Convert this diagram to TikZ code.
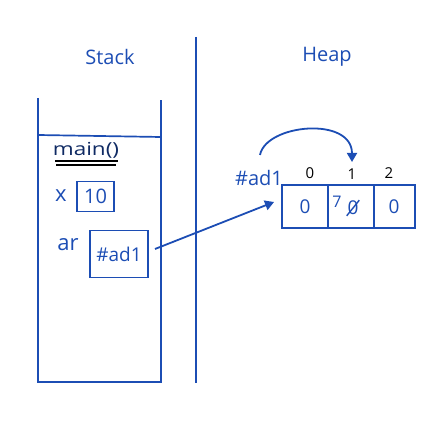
\documentclass[tikz,border=0pt]{standalone}
\usepackage{fontspec}
\setmainfont{Open Sans}
\usetikzlibrary{arrows.meta}
\definecolor{pen}{HTML}{1C4DB4}
\begin{document}
\begin{tikzpicture}[x=1pt,y=-1pt,
  line width=1.7pt,
  ink/.style={draw=pen},
  lbl/.style={text=pen,font=\fontsize{20}{22}\selectfont,inner sep=0pt},
  idx/.style={text=black,font=\fontsize{15}{17}\selectfont,inner sep=0pt},
  cellval/.style={text=pen,font=\fontsize{19}{21}\selectfont,inner sep=0pt},
  varbox/.style={draw=pen,line width=1.7pt,inner sep=0pt,text=pen},
  cell/.style={draw=pen,line width=1.7pt,minimum height=43pt,inner sep=0pt},
  arr/.style={draw=pen,line width=1.8pt,-{Triangle[length=9pt,width=10pt]}}]
\useasboundingbox (0,0) rectangle (444,427);
% titles
\node[lbl] (stacklbl) at (110,57) {Stack};
\node[lbl] (heaplbl) at (327,57) {Heap};
% divider
\draw[ink] (196,37) -- (196,383);
% stack frame
\draw[ink] (38,98) -- (38,382) -- (161,382) -- (161,100);
\draw[ink] (38,135) -- (161,137);
% main()
\node[text=pen!55!black,font=\fontsize{18}{20}\selectfont,inner sep=0pt,xscale=1.25] (main) at (86,150) {main()};
\draw[black,line width=1.3pt] (55,161) -- (118,161);
\draw[black,line width=1.3pt] (56,165) -- (116,165);
% x
\node[lbl,font=\fontsize{22}{24}\selectfont] (xlbl) at (61,196) {x};
\node[varbox,minimum width=37pt,minimum height=30pt,font=\fontsize{20}{22}\selectfont] (xbox) at (95.5,196.5) {10};
% ar
\node[lbl,font=\fontsize{22}{24}\selectfont] (arlbl) at (68,245) {ar};
\node[varbox,minimum width=58pt,minimum height=47pt,font=\fontsize{19}{21}\selectfont] (arbox) at (119,254) {\#ad1};
% heap array
\node[cell,minimum width=46pt] (c0) at (305,206.5) {};
\node[cell,minimum width=46pt] (c1) at (351,206.5) {};
\node[cell,minimum width=41pt] (c2) at (394.5,206.5) {};
\node[cellval] (v0) at (305,207) {0};
\node[cellval,font=\fontsize{16}{18}\selectfont] (v1a) at (337,202) {7};
\node[cellval] (v1b) at (353,208) {0};
\draw[ink,line width=1.4pt] (v1b.south west) -- (v1b.north east);
\node[cellval] (v2) at (394,207) {0};
% indices
\node[idx] (i0) at (310,173) {0};
\node[idx] (i1) at (352,174) {1};
\node[idx] (i2) at (389,173) {2};
% address label
\node[lbl] (addr) at (259,178) {\#ad1};
% arrows
\coordinate (arStart) at (155,249);
\coordinate (arEnd) at (274,202);
\draw[arr] (arStart) -- (arEnd);
\coordinate (cStart) at (260,155);
\coordinate (cEnd) at (352,162);
\draw[arr] (cStart) .. controls (266,124) and (352,116) .. (cEnd);
\end{tikzpicture}
\end{document}
